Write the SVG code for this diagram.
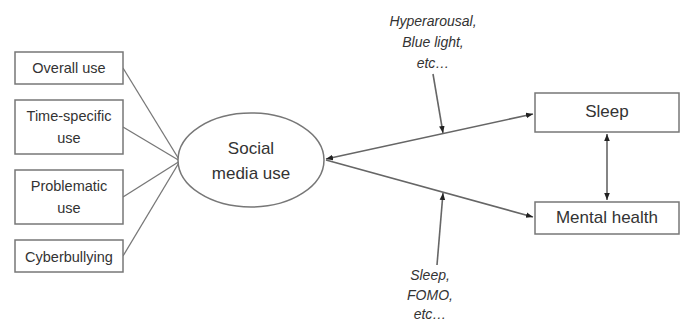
<svg xmlns="http://www.w3.org/2000/svg" width="682" height="321" viewBox="0 0 682 321">
<defs>
<marker id="ah" viewBox="0 0 10 10" refX="10" refY="5" markerWidth="7" markerHeight="7" orient="auto-start-reverse" markerUnits="userSpaceOnUse">
<path d="M0,1 L10,5 L0,9 z" fill="#222"/>
</marker>
<style>
.box{fill:#fff;stroke:#777;stroke-width:1.5}
.t{font-family:"Liberation Sans",Arial,sans-serif;fill:#333;text-anchor:middle}
.s{font-size:14.5px}
.m{font-size:17px}
.i{font-size:14px;font-style:italic}
.ln{stroke:#777;stroke-width:1.3;fill:none}
.ar{stroke:#666;stroke-width:1.6;fill:none}
</style>
</defs>
<rect width="682" height="321" fill="#fff"/>
<g id="connectors">
<line class="ln" x1="123" y1="68" x2="180" y2="161"/>
<line class="ln" x1="123" y1="127" x2="180" y2="161"/>
<line class="ln" x1="123" y1="197" x2="180" y2="161"/>
<line class="ln" x1="123" y1="256" x2="180" y2="161"/>
<line class="ar" x1="326" y1="159" x2="533" y2="114" marker-start="url(#ah)" marker-end="url(#ah)"/>
<line class="ar" x1="326" y1="160" x2="533" y2="217" marker-end="url(#ah)"/>
<line class="ar" x1="607" y1="134" x2="607" y2="200" stroke-width="1" marker-start="url(#ah)" marker-end="url(#ah)"/>
<line class="ar" x1="433" y1="74" x2="443" y2="133" stroke-width="1" marker-end="url(#ah)"/>
<line class="ar" x1="437" y1="265" x2="443" y2="193" stroke-width="1" marker-end="url(#ah)"/>
</g>
<g id="overall">
<rect class="box" x="15" y="52" width="108" height="32"/>
<text class="t s" x="69" y="73">Overall use</text>
</g>
<g id="timespecific">
<rect class="box" x="15" y="100" width="108" height="54"/>
<text class="t s" x="69" y="121">Time-specific</text>
<text class="t s" x="69" y="143">use</text>
</g>
<g id="problematic">
<rect class="box" x="15" y="170" width="108" height="54"/>
<text class="t s" x="69" y="191">Problematic</text>
<text class="t s" x="69" y="213">use</text>
</g>
<g id="cyberbullying">
<rect class="box" x="15" y="240" width="108" height="32"/>
<text class="t s" x="69" y="262">Cyberbullying</text>
</g>
<g id="social">
<ellipse class="box" cx="251" cy="160" rx="73" ry="47"/>
<text class="t m" x="251" y="154">Social</text>
<text class="t m" x="251" y="179">media use</text>
</g>
<g id="sleep">
<rect class="box" x="535" y="93" width="144" height="39"/>
<text class="t m" x="607" y="117">Sleep</text>
</g>
<g id="mental">
<rect class="box" x="535" y="202" width="144" height="32"/>
<text class="t m" x="607" y="223">Mental health</text>
</g>
<g id="mediator-top">
<text class="t i" x="433" y="26">Hyperarousal,</text>
<text class="t i" x="433" y="47">Blue light,</text>
<text class="t i" x="433" y="68">etc…</text>
</g>
<g id="mediator-bottom">
<text class="t i" x="430" y="280">Sleep,</text>
<text class="t i" x="430" y="300">FOMO,</text>
<text class="t i" x="430" y="319">etc…</text>
</g>
</svg>
